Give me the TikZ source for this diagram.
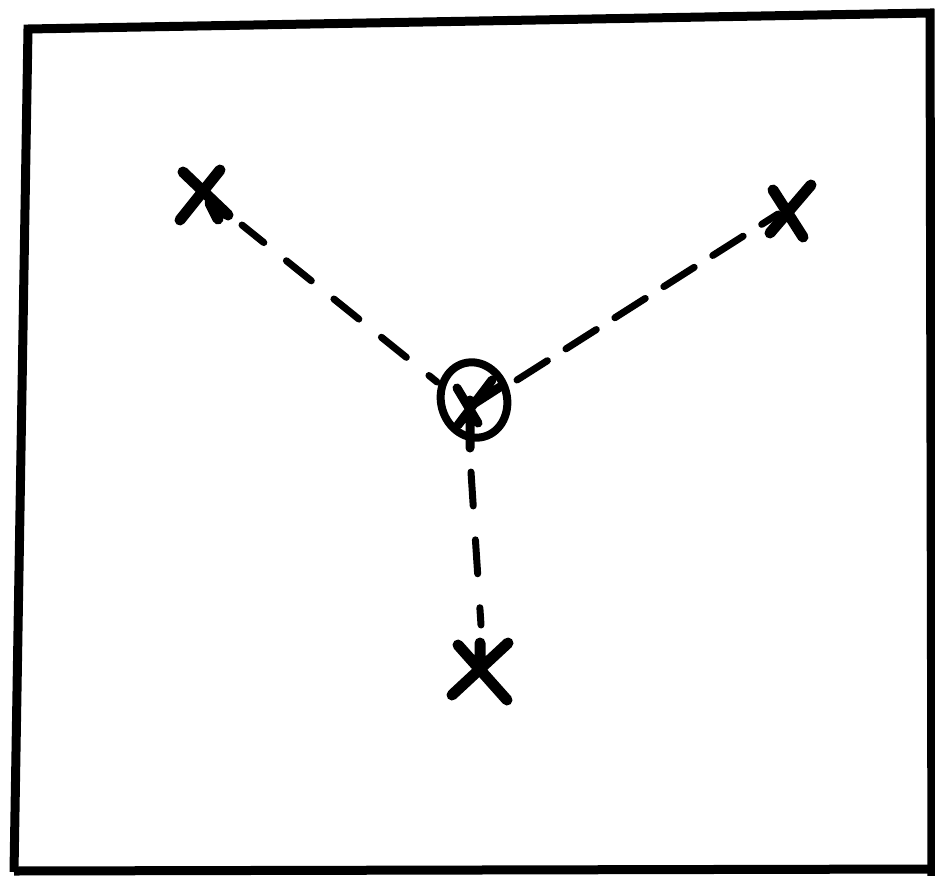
\documentclass[tikz,border=0pt]{standalone}
\usetikzlibrary{calc}
\begin{document}
\begin{tikzpicture}[x=1pt,y=-1pt,
  frame/.style={line width=9pt,line join=miter},
  cross/.style={line width=11pt,line cap=round},
  conn/.style={line width=7pt,line cap=round}]
\useasboundingbox[fill=white] (0,0) rectangle (935,876);
% frame
\draw[frame] (14,872) -- (28,29) -- (930,13) -- (932,880);
\draw[frame] (14,871) -- (940,869);
% marks
\coordinate (A) at (204,195);
\coordinate (B) at (790,210);
\coordinate (C) at (480,672);
\coordinate (O) at (474,400);
\draw[cross] (183,172) -- (228,215) (220,170) -- (180,220) (210,203) -- (218,219);
\draw[cross] (773,190) -- (803,237) (811,185) -- (770,233);
\draw[cross] (458,645) -- (507,700) (508,643) -- (452,695) (480,643) -- (480,668);
\draw[line width=8pt,rotate around={15:(O)}] (O) ellipse [x radius=33pt, y radius=38pt];
\draw[conn,line width=9pt] (457,388) -- (478,423) (492,380) -- (458,425) (500,387) -- (472,405) (470,400) -- (470,448);
% connectors
\draw[conn,dash pattern=on 32pt off 29pt,dash phase=4pt] ($(A)+(38,30)$) -- ($(O)+(-37,-18)$);
\draw[conn,dash pattern=on 36pt off 22pt] ($(O)+(43,-20)$) -- ($(B)+(-12,4)$);
\draw[conn,dash pattern=on 34pt off 34pt] ($(O)+(-3,72)$) -- ($(C)+(1,-47)$);
\end{tikzpicture}
\end{document}
